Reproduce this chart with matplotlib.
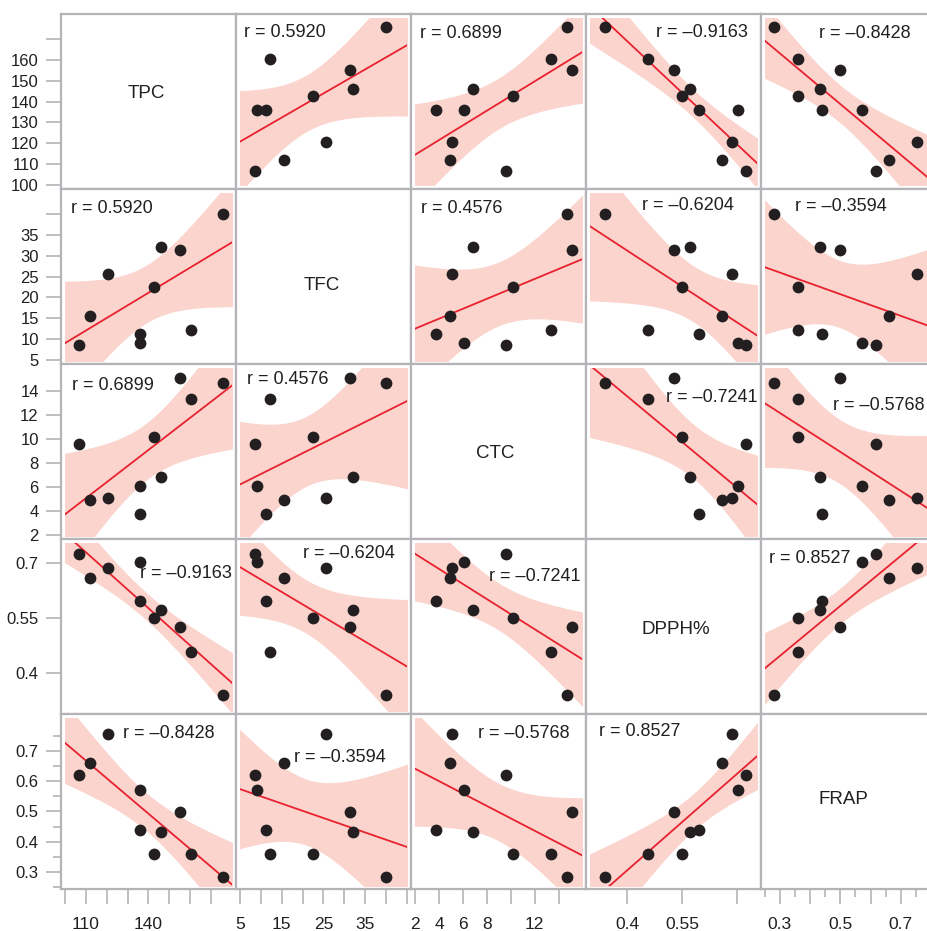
import numpy as np
import matplotlib.pyplot as plt
from matplotlib.patches import Rectangle

# variables (10 samples)
names = ['TPC', 'TFC', 'CTC', 'DPPH%', 'FRAP']
tpc = [106.5, 111.9, 120.5, 136.2, 136.2, 142.5, 146.2, 155.0, 160.2, 175.6]
tfc = [8.6, 15.6, 25.6, 9.1, 11.2, 22.5, 32.1, 31.4, 12.2, 40.0]
ctc = [9.62, 4.93, 5.12, 6.10, 3.76, 10.21, 6.88, 15.12, 13.37, 14.70]
dpph = [0.724, 0.657, 0.686, 0.702, 0.596, 0.549, 0.571, 0.526, 0.456, 0.339]
frap = [0.619, 0.660, 0.754, 0.572, 0.438, 0.361, 0.433, 0.499, 0.361, 0.282]
data = [tpc, tfc, ctc, dpph, frap]

# correlation labels as printed
r_labels = [
    [None, '0.5920', '0.6899', '–0.9163', '–0.8428'],
    ['0.5920', None, '0.4576', '–0.6204', '–0.3594'],
    ['0.6899', '0.4576', None, '–0.7241', '–0.5768'],
    ['–0.9163', '–0.6204', '–0.7241', None, '0.8527'],
    ['–0.8428', '–0.3594', '–0.5768', '0.8527', None],
]
# where each r label sits (axes fraction)
r_pos = [
    [None, (0.046, 0.893), (0.051, 0.891), (0.40, 0.897), (0.331, 0.891)],
    [(0.055, 0.891), None, (0.057, 0.891), (0.32, 0.903), (0.194, 0.899)],
    [(0.061, 0.88), (0.061, 0.914), None, (0.457, 0.806), (0.41, 0.762)],
    [(0.451, 0.80), (0.381, 0.92), (0.446, 0.783), None, (0.046, 0.891)],
    [(0.354, 0.889), (0.331, 0.754), (0.38, 0.889), (0.077, 0.898), None],
]
diag_pos = [(0.487, 0.547), (0.49, 0.446), (0.48, 0.49), (0.514, 0.48), (0.473, 0.513)]

ylims = [(98.1, 182.0), (4.04, 46.0), (1.66, 16.3), (0.288, 0.764), (0.244, 0.821)]
xlims = [(98.1, 182.0), (4.04, 46.0), (1.66, 16.3), (0.288, 0.764), (0.238, 0.816)]

# ticks and labels per variable
y_ticks = [[100, 110, 120, 130, 140, 150, 160, 170],
           [5, 10, 15, 20, 25, 30, 35, 40],
           [2, 4, 6, 8, 10, 12, 14],
           [0.4, 0.55, 0.7],
           [0.3, 0.4, 0.5, 0.6, 0.7]]
y_ticklabels = [['100', '110', '120', '130', '140', '150', '160', ''],
                ['5', '10', '15', '20', '25', '30', '35', ''],
                ['2', '4', '6', '8', '10', '12', '14'],
                ['0.4', '0.55', '0.7'],
                ['0.3', '0.4', '0.5', '0.6', '0.7']]
x_ticks = [[100, 110, 120, 130, 140, 150, 160, 170],
           [5, 10, 15, 20, 25, 30, 35, 40, 45],
           [2, 4, 6, 8, 10, 12, 14],
           [0.4, 0.55, 0.7],
           [0.3, 0.4, 0.5, 0.6, 0.7]]
x_ticklabels = [['', '110', '', '', '140', '', '', ''],
                ['5', '', '15', '', '25', '', '35', '', ''],
                ['2', '4', '6', '8', '', '12', ''],
                ['0.4', '0.55', ''],
                ['0.3', '', '0.5', '', '0.7']]
frap_minor = [0.25, 0.35, 0.45, 0.55, 0.65, 0.75]

plt.rcParams['font.family'] = ['Liberation Sans', 'DejaVu Sans']
grey = '#b4b4b8'
ink = '#231f20'

W, H = 928, 931
fig = plt.figure(figsize=(W / 100, H / 100), dpi=100)
n = 5
cell = 175
t_crit = 2.306  # t(0.975, df=8)

for i in range(n):
    for j in range(n):
        ax = fig.add_axes([(61 + cell * j) / W, 1 - (14 + cell * (i + 1)) / H, cell / W, cell / H])
        ax.set_xlim(xlims[j])
        ax.set_ylim(ylims[i])
        for s in ax.spines.values():
            s.set_color(grey)
            s.set_linewidth(1.6)
        ax.tick_params(which='both', direction='out', color=grey, width=1.2,
                       length=11, labelcolor=ink)
        ax.tick_params(which='minor', length=6)

        if j == 0:
            ax.set_yticks(y_ticks[i])
            ax.set_yticklabels(y_ticklabels[i], fontsize=12)
            if i == 4:
                ax.set_yticks(frap_minor, minor=True)
            ax.tick_params(axis='y', pad=5)
        else:
            ax.set_yticks([])
        if i == n - 1:
            ax.set_xticks(x_ticks[j])
            ax.set_xticklabels(x_ticklabels[j], fontsize=12.5)
            if j == 4:
                ax.set_xticks(frap_minor, minor=True)
            ax.tick_params(axis='x', pad=9)
        else:
            ax.set_xticks([])

        if i == j:
            ax.text(*diag_pos[i], names[i], transform=ax.transAxes, ha='center',
                    va='center', fontsize=13.5, color=ink)
            continue

        x = np.array(data[j])
        y = np.array(data[i])
        xm, ym = x.mean(), y.mean()
        sxx = ((x - xm) ** 2).sum()
        b1 = ((x - xm) * (y - ym)).sum() / sxx
        b0 = ym - b1 * xm
        resid = y - (b0 + b1 * x)
        s = np.sqrt((resid ** 2).sum() / (len(x) - 2))
        xs = np.linspace(xlims[j][0], xlims[j][1], 200)
        fit = b0 + b1 * xs
        half = t_crit * s * np.sqrt(1 / len(x) + (xs - xm) ** 2 / sxx)

        clip = Rectangle((0.024, 0.02), 0.952, 0.958, transform=ax.transAxes,
                         facecolor='none', edgecolor='none')
        ax.add_patch(clip)
        band = ax.fill_between(xs, fit - half, fit + half, color='#fad4cd', lw=0, zorder=1)
        band.set_clip_path(clip)
        line, = ax.plot(xs, fit, color='#e8212f', lw=1.3, zorder=2)
        line.set_clip_path(clip)
        ax.scatter(x, y, s=72, color=ink, zorder=3, linewidths=0)

        ax.text(*r_pos[i][j], 'r = ' + r_labels[i][j], transform=ax.transAxes,
                ha='left', va='center', fontsize=13, color=ink, zorder=4)

fig.savefig('out.png', dpi=100)
